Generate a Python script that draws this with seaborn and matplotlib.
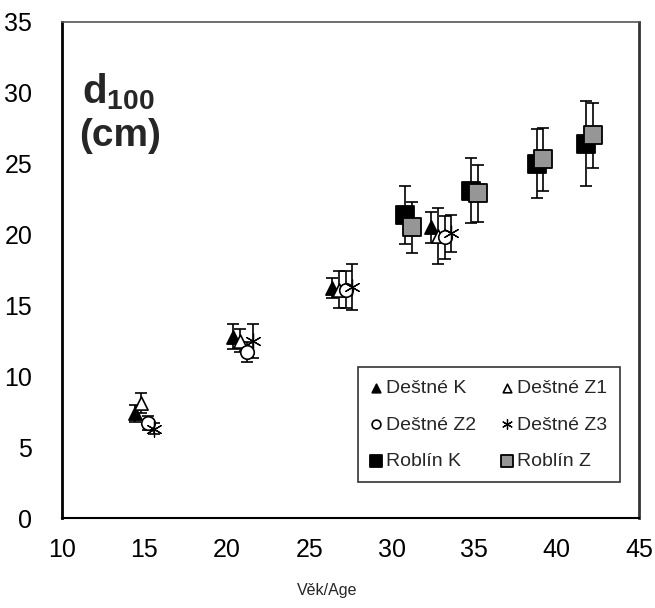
import matplotlib
matplotlib.use('Agg')
import matplotlib.pyplot as plt
import seaborn as sns
import pandas as pd

sns.set_style("white")
plt.rcParams['font.family'] = ['Liberation Sans', 'DejaVu Sans']
plt.rcParams['mathtext.fontset'] = 'custom'
plt.rcParams['mathtext.rm'] = 'Liberation Sans'
plt.rcParams['mathtext.bf'] = 'Liberation Sans:bold'

# data: age, mean d100, +/- error
age_dk = [14.4, 20.4, 26.4, 32.4]
d_dk = [7.4, 12.8, 16.2, 20.5]
err_dk = [0.6, 0.9, 0.7, 1.1]

age_dz1 = [14.8, 20.8, 26.8, 32.8]
d_dz1 = [8.1, 12.5, 16.1, 19.9]
err_dz1 = [0.7, 0.8, 1.3, 2.0]

age_dz2 = [15.2, 21.2, 27.2, 33.2]
d_dz2 = [6.7, 11.7, 16.1, 19.8]
err_dz2 = [0.5, 0.7, 1.3, 1.5]

age_dz3 = [15.6, 21.6, 27.6, 33.6]
d_dz3 = [6.3, 12.5, 16.3, 20.1]
err_dz3 = [0.4, 1.2, 1.65, 1.3]

age_rk = [30.8, 34.8, 38.8, 41.8]
d_rk = [21.4, 23.1, 25.0, 26.4]
err_rk = [2.05, 2.3, 2.45, 3.0]

age_rz = [31.2, 35.2, 39.2, 42.2]
d_rz = [20.5, 22.9, 25.3, 27.0]
err_rz = [1.8, 2.0, 2.2, 2.3]

names = ['Deštné K', 'Deštné Z1', 'Deštné Z2', 'Deštné Z3', 'Roblín K', 'Roblín Z']
ages = [age_dk, age_dz1, age_dz2, age_dz3, age_rk, age_rz]
vals = [d_dk, d_dz1, d_dz2, d_dz3, d_rk, d_rz]
errs = [err_dk, err_dz1, err_dz2, err_dz3, err_rk, err_rz]

# marker styles per series
styles = {
    'Deštné K': dict(marker='^', color='black', s=90, lw=1.2),
    'Deštné Z1': dict(marker='^', color='white', s=90, lw=1.2),
    'Deštné Z2': dict(marker='o', color='white', s=95, lw=1.2),
    'Deštné Z3': dict(marker=(6, 2, 0), color='black', s=120, lw=0.9),
    'Roblín K': dict(marker='s', color='black', s=150, lw=1.3),
    'Roblín Z': dict(marker='s', color='#969696', s=150, lw=1.3),
}

fig = plt.figure(figsize=(6.55, 6.08), dpi=100)
ax = fig.add_axes([0.0947, 0.148, 0.881, 0.816])

for name, x, y, e in zip(names, ages, vals, errs):
    df = pd.DataFrame({'age': x, 'd100': y})
    ax.errorbar(x, y, yerr=e, fmt='none', ecolor='black', elinewidth=1.2,
                capsize=4.5, capthick=1.2, zorder=2)
    st = styles[name]
    sns.scatterplot(data=df, x='age', y='d100', ax=ax, marker=st['marker'],
                    color=st['color'], s=st['s'], edgecolor='black',
                    linewidth=st['lw'], zorder=3, label=name)

ax.set_xlim(10, 45)
ax.set_ylim(0, 35)
ax.set_xticks(range(10, 46, 5))
ax.set_yticks(range(0, 36, 5))
ax.tick_params(axis='both', labelsize=18, colors='black', length=11,
               width=1, direction='inout')
ax.tick_params(axis='x', pad=9)
ax.tick_params(axis='y', pad=16)
ax.set_xlabel('')
ax.set_ylabel('')

ax.spines['left'].set_linewidth(2)
ax.spines['left'].set_color('black')
ax.spines['bottom'].set_linewidth(1.5)
ax.spines['bottom'].set_color('black')
ax.spines['top'].set_linewidth(1.2)
ax.spines['top'].set_color('#555555')
ax.spines['right'].set_linewidth(2)
ax.spines['right'].set_color('#333333')

# legend: 3 rows x 2 columns, filled column-wise
h, l = ax.get_legend_handles_labels()
order = [0, 2, 4, 1, 3, 5]
leg = ax.legend([h[i] for i in order], [l[i] for i in order], ncol=2,
                loc='lower right', bbox_to_anchor=(0.967, 0.072),
                borderaxespad=0, fontsize=14, frameon=True, fancybox=False,
                edgecolor='black', handlelength=0.5, handletextpad=0.3,
                columnspacing=1.3, labelspacing=0.95, borderpad=0.65,
                markerscale=0.65)
leg.get_frame().set_linewidth(1.2)

ax.text(0.035, 0.835, r'$\mathbf{d_{100}}$', transform=ax.transAxes,
        fontsize=29, fontweight='bold', va='baseline')
ax.text(0.03, 0.75, '(cm)', transform=ax.transAxes,
        fontsize=28, fontweight='bold', va='baseline')

fig.text(0.5, 1 - 590 / 608, 'Věk/Age', fontsize=11.5, ha='center', va='center')

fig.savefig('out.png', dpi=100)
